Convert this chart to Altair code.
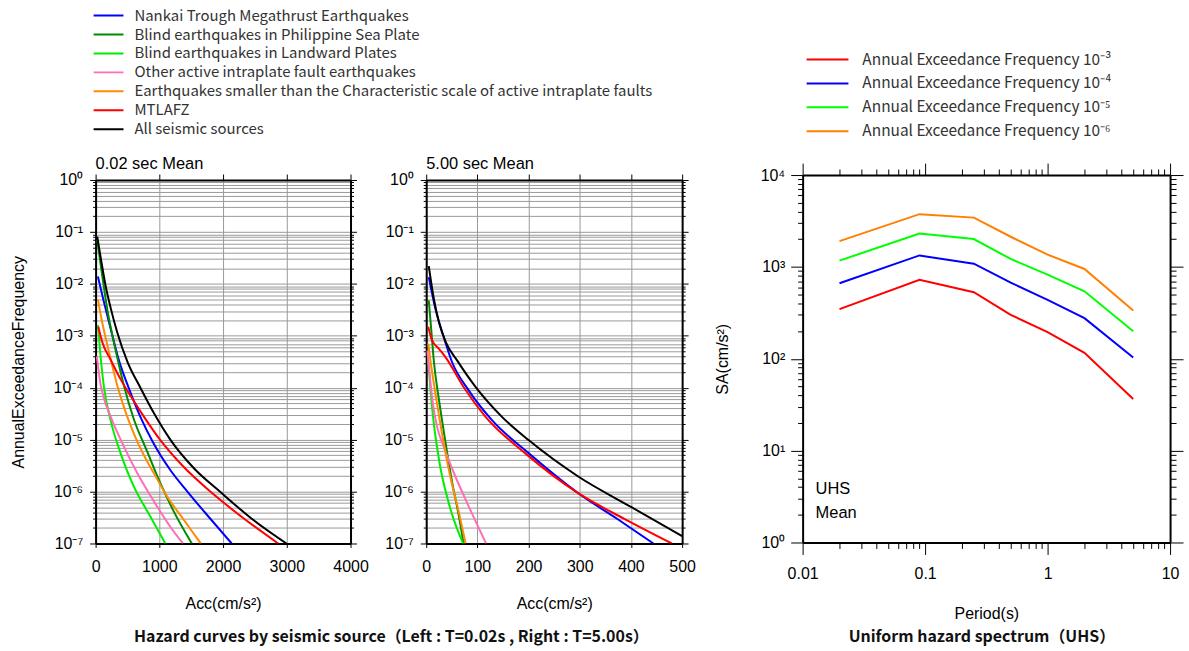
import altair as alt
import pandas as pd

FONT = "Liberation Sans"
JP_FONT = "Noto Sans CJK JP"

# ---------------- seismic sources ----------------
SOURCES = [
    "Nankai Trough Megathrust Earthquakes",
    "Blind earthquakes in Philippine Sea Plate",
    "Blind earthquakes in Landward Plates",
    "Other active intraplate fault earthquakes",
    "Earthquakes smaller than the Characteristic scale of active intraplate faults",
    "MTLAFZ",
    "All seismic sources",
]
SOURCE_COLORS = ["#0000ff", "#008a00", "#00ee00", "#ff6eb4", "#ff8c00", "#ff0000", "#000000"]

# ---------------- hazard curves, T = 0.02 s ----------------
# acceleration (cm/s^2) and annual exceedance frequency
nankai_t002_acc = [36, 130, 234, 365, 521, 703, 900, 1172, 1440, 1780, 2135]
nankai_t002_freq = [1.38e-2, 4.5e-3, 1.4e-3, 3.4e-4, 9.8e-5, 2.75e-5, 8.9e-6, 2.6e-6, 1.0e-6, 3.2e-7, 1.0e-7]
phil_t002_acc = [26, 52, 104, 182, 286, 365, 443, 599, 807, 1016, 1224, 1510]
phil_t002_freq = [7.1e-2, 4.1e-2, 1.45e-2, 3.3e-3, 7.6e-4, 2.8e-4, 1.12e-4, 2.5e-5, 6.0e-6, 1.45e-6, 4.2e-7, 1.0e-7]
land_t002_acc = [36, 78, 130, 234, 391, 599, 859, 1094]
land_t002_freq = [1.6e-3, 4.0e-4, 1.05e-4, 2.4e-5, 5.5e-6, 1.26e-6, 3.3e-7, 1.0e-7]
other_t002_acc = [20, 50, 80, 130, 234, 443, 651, 964, 1172, 1370]
other_t002_freq = [4.0e-4, 2.0e-4, 1.12e-4, 6.3e-5, 2.8e-5, 7.4e-6, 2.3e-6, 5.2e-7, 2.1e-7, 1.0e-7]
small_t002_acc = [36, 104, 208, 339, 495, 640, 800, 911, 1120, 1380, 1651]
small_t002_freq = [5.0e-3, 1.8e-3, 5.0e-4, 1.12e-4, 2.8e-5, 1.0e-5, 4.0e-6, 2.3e-6, 8.1e-7, 2.9e-7, 1.0e-7]
mtl_t002_acc = [42, 104, 234, 400, 560, 760, 1010, 1380, 1800, 2300, 2865]
mtl_t002_freq = [1.5e-3, 7.6e-4, 3.5e-4, 1.4e-4, 6.6e-5, 2.75e-5, 1.0e-5, 3.0e-6, 1.0e-6, 3.2e-7, 1.0e-7]
all_t002_acc = [26, 80, 156, 240, 339, 500, 703, 930, 1172, 1550, 1950, 2450, 2995]
all_t002_freq = [8.1e-2, 3.2e-2, 9.3e-3, 3.3e-3, 1.17e-3, 3.16e-4, 1.0e-4, 3.0e-5, 1.0e-5, 2.75e-6, 1.0e-6, 3.0e-7, 1.0e-7]

# ---------------- hazard curves, T = 5.00 s ----------------
nankai_t500_acc = [5, 18, 31, 50, 83, 128, 200, 297, 375, 444]
nankai_t500_freq = [1.35e-2, 3.3e-3, 1.2e-3, 3.2e-4, 8.9e-5, 2.4e-5, 5.5e-6, 9.3e-7, 2.9e-7, 1.0e-7]
phil_t500_acc = [5, 10, 15, 25, 38, 51, 64, 73]
phil_t500_freq = [4.8e-3, 1.26e-3, 3.2e-4, 5.8e-5, 8.5e-6, 1.45e-6, 3.3e-7, 1.0e-7]
land_t500_acc = [4, 12, 25, 44, 72]
land_t500_freq = [3.2e-4, 3.7e-5, 4.1e-6, 6.0e-7, 1.0e-7]
other_t500_acc = [2, 4, 12, 21, 34, 57, 83, 117]
other_t500_freq = [5.2e-4, 3.4e-4, 5.8e-5, 1.8e-5, 7.4e-6, 1.95e-6, 5.2e-7, 1.0e-7]
small_t500_acc = [4, 8.5, 18, 31, 47, 64, 77]
small_t500_freq = [7.1e-4, 3.2e-4, 7.8e-5, 1.3e-5, 1.95e-6, 3.9e-7, 1.0e-7]
mtl_t500_acc = [4, 11, 25, 40, 72, 116, 193, 297, 388, 480]
mtl_t500_freq = [1.5e-3, 8.3e-4, 5.6e-4, 3.6e-4, 1.07e-4, 2.75e-5, 5.5e-6, 9.3e-7, 2.95e-7, 1.0e-7]
all_t500_acc = [5, 15, 25, 38, 60, 96, 148, 200, 297, 401, 500]
all_t500_freq = [2.2e-2, 5.1e-3, 1.8e-3, 7.6e-4, 3.4e-4, 1.05e-4, 2.75e-5, 9.8e-6, 1.95e-6, 5.0e-7, 1.38e-7]

# ---------------- uniform hazard spectrum ----------------
PERIODS = [0.02, 0.09, 0.25, 0.5, 1.0, 2.0, 5.0]
uhs_1e3 = [347, 722, 531, 301, 195, 116, 36.4]
uhs_1e4 = [663, 1334, 1084, 675, 438, 277, 103]
uhs_1e5 = [1170, 2310, 2010, 1220, 824, 543, 199]
uhs_1e6 = [1910, 3750, 3440, 2130, 1360, 950, 336]
LEVELS = [
    "Annual Exceedance Frequency 10⁻³",
    "Annual Exceedance Frequency 10⁻⁴",
    "Annual Exceedance Frequency 10⁻⁵",
    "Annual Exceedance Frequency 10⁻⁶",
]
LEVEL_COLORS = ["#ff0000", "#0000ff", "#00ff00", "#ff8000"]


def curve_frame(series):
    rows = []
    for name, (acc, freq) in zip(SOURCES, series):
        for a, f in zip(acc, freq):
            rows.append({"source": name, "acc": a, "freq": f})
    return pd.DataFrame(rows)


t002 = curve_frame([
    (nankai_t002_acc, nankai_t002_freq), (phil_t002_acc, phil_t002_freq),
    (land_t002_acc, land_t002_freq), (other_t002_acc, other_t002_freq),
    (small_t002_acc, small_t002_freq), (mtl_t002_acc, mtl_t002_freq),
    (all_t002_acc, all_t002_freq),
])
t500 = curve_frame([
    (nankai_t500_acc, nankai_t500_freq), (phil_t500_acc, phil_t500_freq),
    (land_t500_acc, land_t500_freq), (other_t500_acc, other_t500_freq),
    (small_t500_acc, small_t500_freq), (mtl_t500_acc, mtl_t500_freq),
    (all_t500_acc, all_t500_freq),
])

uhs_rows = []
for level, values in zip(LEVELS, [uhs_1e3, uhs_1e4, uhs_1e5, uhs_1e6]):
    for p, v in zip(PERIODS, values):
        uhs_rows.append({"level": level, "period": p, "sa": v})
uhs = pd.DataFrame(uhs_rows)

# ---------------- log-axis helpers ----------------
SUP = str.maketrans("-0123456789", "⁻⁰¹²³⁴⁵⁶⁷⁸⁹")
EXP = "round(log(datum.value)/LN10)"
IS_DECADE = f"abs(log(datum.value)/LN10 - {EXP}) < 0.001"


def log_ticks(lo, hi):
    vals = []
    for k in range(lo, hi):
        for m in range(1, 10):
            vals.append(float(f"{m}e{k}"))
    vals.append(float(f"1e{hi}"))
    return vals


def decade_labels(labels):
    chain = "''"
    for k, text in labels.items():
        chain = f"{EXP} == {k} ? '{text}' : {chain}"
    return f"{IS_DECADE} ? ({chain}) : ''"


def power_labels(lo, hi):
    return decade_labels({k: "10" + str(k).translate(SUP) for k in range(lo, hi + 1)})


def tick_len(major, minor):
    return {"condition": {"test": IS_DECADE, "value": major}, "value": minor}


AXIS_COMMON = dict(labelFlush=False, labelOverlap=False, tickColor="black",
                   domainColor="black", domainWidth=2)


def note(text, x, y, align="left", font=FONT, weight="normal", size=16.5):
    return alt.Chart(pd.DataFrame({"t": [text]})).mark_text(
        x=x, y=y, align=align, baseline="middle", font=font, fontSize=size,
        fontWeight=weight, color="black" if weight == "normal" else "#111111",
    ).encode(text="t:N")


def hazard_panel(df, xmax, xstep, width, title, ytitle, legend, caption=None):
    x_vals = list(range(0, xmax + 1, xstep))
    y_vals = log_ticks(-7, 0)
    x_scale = alt.Scale(domain=[0, xmax], nice=False, zero=False)
    y_scale = alt.Scale(type="log", domain=[1e-7, 1], nice=False)
    base = alt.Chart(df)

    lines = base.mark_line(strokeWidth=2, clip=True, interpolate="monotone").encode(
        x=alt.X("acc:Q", scale=x_scale, axis=alt.Axis(
            orient="bottom", values=x_vals, format="d", grid=True,
            gridColor="#999999", gridWidth=1, tickSize=4, labelPadding=11,
            title="Acc(cm/s²)", titlePadding=21, **AXIS_COMMON)),
        y=alt.Y("freq:Q", scale=y_scale, axis=alt.Axis(
            orient="left", values=y_vals, labelExpr=power_labels(-7, 0),
            tickSize=tick_len(6, 3), grid=True, gridColor="#999999", gridWidth=1,
            labelPadding=7, title=ytitle, titlePadding=27, **AXIS_COMMON)),
        color=alt.Color("source:N", sort=SOURCES,
                        scale=alt.Scale(domain=SOURCES, range=SOURCE_COLORS),
                        legend=legend),
    )
    mirror = base.mark_line(strokeOpacity=0).encode(
        x=alt.X("acc:Q", scale=x_scale, axis=alt.Axis(
            orient="top", values=x_vals, labels=False, tickSize=6, grid=False,
            title=None, **AXIS_COMMON)),
        y=alt.Y("freq:Q", scale=y_scale, axis=alt.Axis(
            orient="right", values=y_vals, labels=False, tickSize=tick_len(6, 3),
            grid=False, title=None, **AXIS_COMMON)),
    )
    layers = [lines, mirror, note(title, 0, -16)]
    if caption is not None:
        layers.append(note(caption, 297, 459, align="center", font=JP_FONT, weight="bold", size=16))
    return alt.layer(*layers).resolve_axis(x="independent", y="independent").properties(
        width=width, height=365
    )


left_legend = alt.Legend(
    orient="none", legendX=-3, legendY=-174.4, direction="vertical", title=None,
    symbolType="stroke", symbolSize=900, symbolStrokeWidth=2, labelFont=JP_FONT,
    labelFontSize=15, labelColor="#333333", labelOffset=10, labelLimit=900,
    clipHeight=18.6, rowPadding=0, padding=0,
)

left = hazard_panel(t002, 4000, 1000, 256, "0.02 sec Mean", "AnnualExceedanceFrequency",
                    left_legend,
                    caption="Hazard curves by seismic source（Left : T=0.02s , Right : T=5.00s）")
middle = hazard_panel(t500, 500, 100, 257, "5.00 sec Mean", None, None)

# ---------------- UHS panel ----------------
# the spectrum frame sits 5 px higher than the hazard-curve frames
UHS_H = 364
px_scale = alt.Scale(type="log", domain=[0.01, 10], nice=False)
sa_scale = alt.Scale(type="log", domain=[1, 1e4], nice=False, range=[UHS_H, -5])
p_vals = log_ticks(-2, 1)
sa_vals = log_ticks(0, 4)
period_labels = decade_labels({-2: "0.01", -1: "0.1", 0: "1", 1: "10"})

uhs_lines = alt.Chart(uhs).mark_line(strokeWidth=2).encode(
    x=alt.X("period:Q", scale=px_scale, axis=alt.Axis(
        orient="bottom", values=p_vals, labelExpr=period_labels, tickSize=tick_len(12, 6),
        grid=False, labelPadding=11, title="Period(s)", titlePadding=24, **AXIS_COMMON)),
    y=alt.Y("sa:Q", scale=sa_scale, axis=alt.Axis(
        orient="left", values=sa_vals, labelExpr=power_labels(0, 4), tickSize=tick_len(12, 5),
        grid=False, labelPadding=6, title="SA(cm/s²)", titlePadding=30, **AXIS_COMMON)),
    color=alt.Color("level:N", sort=LEVELS,
                    scale=alt.Scale(domain=LEVELS, range=LEVEL_COLORS),
                    legend=alt.Legend(
                        orient="none", legendX=3, legendY=-133, direction="vertical",
                        title=None, symbolType="stroke", symbolSize=1764,
                        symbolStrokeWidth=2, labelFont=JP_FONT, labelFontSize=15.5,
                        labelColor="#333333", labelOffset=13, labelLimit=600,
                        clipHeight=24, rowPadding=0, padding=0)),
)
uhs_mirror = alt.Chart(uhs).mark_line(strokeOpacity=0).encode(
    x=alt.X("period:Q", scale=px_scale, axis=alt.Axis(
        orient="top", offset=5, values=p_vals, labels=False, tickSize=tick_len(12, 6),
        grid=False, title=None, **AXIS_COMMON)),
    y=alt.Y("sa:Q", scale=sa_scale, axis=alt.Axis(
        orient="right", values=sa_vals, labels=False, tickSize=tick_len(13, 6), grid=False,
        title=None, **AXIS_COMMON)),
)

right = alt.layer(
    uhs_lines, uhs_mirror,
    note("UHS", 13, 310), note("Mean", 13, 334),
    note("Uniform hazard spectrum（UHS）", 180, 459, align="center", font=JP_FONT,
         weight="bold", size=16),
).resolve_axis(x="independent", y="independent").properties(width=369, height=UHS_H)


def spacer(w, h):
    return alt.Chart(pd.DataFrame({"s": [0]})).mark_point(opacity=0).properties(width=w, height=h)


chart = alt.hconcat(
    left, spacer(76, 365), middle, spacer(121, 365), right,
    spacing=0, bounds="flush",
).resolve_scale(color="independent").properties(
    padding={"left": 10, "top": 4.4, "right": 5, "bottom": 10}
).configure_view(strokeWidth=0).configure_axis(
    labelFont=FONT, titleFont=FONT, labelFontSize=16, titleFontSize=16,
    titleFontWeight="normal", labelColor="black", titleColor="black",
)

chart.save("out.html", embed_options={"renderer": "svg", "actions": False})
